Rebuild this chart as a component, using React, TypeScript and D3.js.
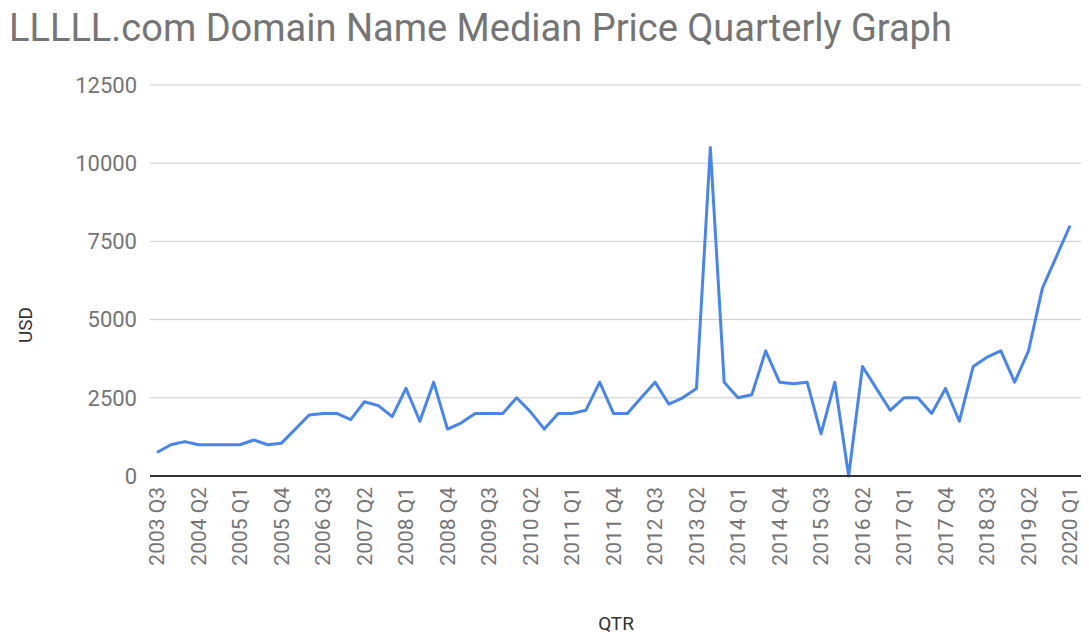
import React, { useEffect, useRef } from 'react';
import * as d3 from 'd3';

// quarters 2003 Q3 .. 2020 Q1
const years = d3.range(2003, 2021);
const quarters: string[] = years
  .flatMap((y) => [1, 2, 3, 4].map((q) => `${y} Q${q}`))
  .filter((_, i) => i >= 2 && i <= 68);

const medianPrice = [
  750, 1000, 1100, 1000, 1000, 1000, 1000, 1150, 1000, 1050,
  1500, 1950, 2000, 2000, 1800, 2375, 2250, 1900, 2800, 1750,
  3000, 1500, 1700, 2000, 2000, 2000, 2500, 2050, 1500, 2000,
  2000, 2100, 3000, 2000, 2000, 2500, 3000, 2300, 2500, 2800,
  10500, 3000, 2500, 2600, 4000, 3000, 2950, 3000, 1350, 3000,
  0, 3500, 2800, 2100, 2500, 2500, 2000, 2800, 1750, 3500,
  3800, 4000, 3000, 4000, 6000, 7000, 8000,
];

const yTicks = [0, 2500, 5000, 7500, 10000, 12500];

const W = 1089;
const H = 637;

const App = () => {
  const svgRef = useRef<SVGSVGElement>(null);

  useEffect(() => {
    const svg = d3.select(svgRef.current);
    svg.selectAll('*').remove();

    const font = 'Roboto, Arial, sans-serif';
    const grey = '#757575';

    const x = d3.scalePoint<string>().domain(quarters).range([157, 1070]);
    const y = d3.scaleLinear().domain([0, 12500]).range([476, 85]);

    // title
    svg
      .append('text')
      .attr('x', 9)
      .attr('y', 41)
      .attr('font-family', font)
      .attr('font-size', 38)
      .attr('fill', grey)
      .text('LLLLL.com Domain Name Median Price Quarterly Graph');

    // gridlines
    svg
      .append('g')
      .selectAll('line')
      .data(yTicks.filter((d) => d > 0))
      .join('line')
      .attr('x1', 150)
      .attr('x2', 1081)
      .attr('y1', (d) => y(d))
      .attr('y2', (d) => y(d))
      .attr('stroke', '#cccccc')
      .attr('stroke-width', 1);

    // y tick labels
    svg
      .append('g')
      .selectAll('text')
      .data(yTicks)
      .join('text')
      .attr('x', 137)
      .attr('y', (d) => y(d))
      .attr('dy', '0.35em')
      .attr('text-anchor', 'end')
      .attr('font-family', font)
      .attr('font-size', 22)
      .attr('fill', grey)
      .text((d) => d);

    // line
    const line = d3
      .line<number>()
      .x((_, i) => x(quarters[i]) as number)
      .y((d) => y(d));

    svg
      .append('path')
      .datum(medianPrice)
      .attr('d', line)
      .attr('fill', 'none')
      .attr('stroke', '#4a86e8')
      .attr('stroke-width', 3)
      .attr('stroke-linejoin', 'round');

    // baseline
    svg
      .append('line')
      .attr('x1', 150)
      .attr('x2', 1081)
      .attr('y1', y(0))
      .attr('y2', y(0))
      .attr('stroke', '#333333')
      .attr('stroke-width', 2);

    // x tick labels, every third quarter
    svg
      .append('g')
      .selectAll('text')
      .data(quarters.filter((_, i) => i % 3 === 0))
      .join('text')
      .attr(
        'transform',
        (d) => `translate(${(x(d) as number) + 7},${487}) rotate(-90)`,
      )
      .attr('text-anchor', 'end')
      .attr('font-family', font)
      .attr('font-size', 21)
      .attr('fill', grey)
      .text((d) => d);

    // axis titles
    svg
      .append('text')
      .attr('transform', 'translate(32,325) rotate(-90)')
      .attr('text-anchor', 'middle')
      .attr('font-family', font)
      .attr('font-size', 19)
      .attr('fill', '#333333')
      .text('USD');

    svg
      .append('text')
      .attr('x', 616)
      .attr('y', 630)
      .attr('text-anchor', 'middle')
      .attr('font-family', font)
      .attr('font-size', 19)
      .attr('fill', '#333333')
      .text('QTR');
  }, []);

  return (
    <div style={{ position: 'absolute', left: 0, top: 0, width: W, height: H }}>
      <svg ref={svgRef} width={W} height={H} style={{ display: 'block' }} />
    </div>
  );
};

export default App;
